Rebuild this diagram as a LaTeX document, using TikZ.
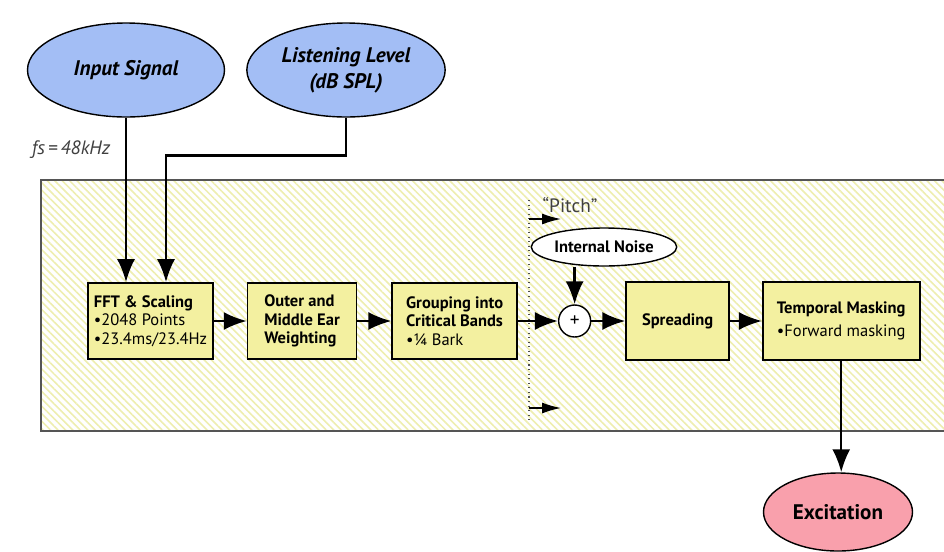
\documentclass[tikz,border=0pt]{standalone}
\usepackage{fontspec}
\setmainfont{PT Sans}
\usetikzlibrary{arrows.meta,positioning,shapes.geometric,patterns.meta}

\definecolor{boxyellow}{RGB}{243,240,160}
\definecolor{hatchyellow}{RGB}{238,238,175}
\definecolor{inblue}{RGB}{163,190,245}
\definecolor{outpink}{RGB}{249,160,172}
\definecolor{framegray}{RGB}{85,85,85}

\begin{document}
\begin{tikzpicture}[
font=\fontsize{9.4}{10.4}\selectfont,
stage/.style={rectangle, draw, line width=0.9pt, fill=boxyellow, align=left, minimum height=1.52cm, inner sep=3pt},
source/.style={ellipse, draw, line width=0.8pt, fill=inblue, minimum width=3.94cm, minimum height=1.88cm, align=center, font=\fontsize{12}{15}\selectfont\bfseries\itshape},
arrow/.style={-{Latex[length=4.6mm,width=3.6mm]}, line width=1.4pt},
thinarrow/.style={-{Latex[length=3.8mm,width=2.2mm]}, line width=0.8pt}
]
\useasboundingbox (0,0) rectangle (18.88,-11.02);

% hatched processing area
\fill[white] (0.82,-3.60) rectangle (18.88,-8.62);
\fill[pattern={Lines[angle=-45,distance=3pt,line width=0.9pt]}, pattern color=hatchyellow] (0.82,-3.60) rectangle (18.88,-8.62);
\draw[framegray, line width=1pt] (18.88,-3.60) -- (0.82,-3.60) -- (0.82,-8.62) -- (18.88,-8.62);

\node[source] (input) at (2.52,-1.40) {Input Signal};
\node[source] (listen) at (6.92,-1.40) {Listening Level\\(dB SPL)};
\node[font=\fontsize{11}{13}\selectfont\itshape, text=black!75] (fs) at (1.42,-3.00) {fs\,=\,48kHz};

\node[stage, minimum width=2.5cm] (fft) at (3.01,-6.42) {\textbf{FFT \& Scaling}\\\textbullet2048 Points\\\textbullet23.4ms/23.4Hz};
\node[stage, minimum width=2.18cm, right=0.66cm of fft] (ear) {\textbf{Outer and}\\\textbf{Middle Ear}\\\textbf{Weighting}};
\node[stage, minimum width=2.5cm, right=0.68cm of ear] (group) {\textbf{Grouping into}\\\textbf{Critical Bands}\\\textbullet\textonequarter{} Bark};
\node[circle, draw, fill=white, line width=0.8pt, minimum size=0.64cm, inner sep=0pt, font=\fontsize{11}{11}\selectfont, right=0.80cm of group] (plus) {+};
\node[stage, minimum width=2.06cm, minimum height=1.56cm, right=0.68cm of plus] (spread) {\textbf{Spreading}};
\node[stage, minimum width=3.14cm, minimum height=1.56cm, right=0.64cm of spread] (temporal) {\textbf{Temporal Masking}\\[3pt]\textbullet Forward masking};
\node[ellipse, draw, line width=0.8pt, fill=white, minimum width=2.34cm, minimum height=0.76cm, inner sep=1pt, font=\fontsize{9.4}{10}\selectfont\bfseries] (noise) at (12.08,-4.94) {Internal Noise};
\node[ellipse, draw, line width=0.8pt, fill=outpink, minimum width=2.98cm, minimum height=1.56cm, font=\fontsize{12}{14}\selectfont\bfseries] (excite) at (16.76,-10.24) {Excitation};

% pitch marker
\draw[dotted, line width=0.6pt, black!70] (10.58,-4.00) -- (10.58,-8.40);
\node[font=\fontsize{11}{13}\selectfont, text=black!75] (pitch) at (11.40,-4.10) {``Pitch''};
\coordinate (pa) at (10.58,-4.38);
\coordinate (pb) at (11.22,-4.38);
\coordinate (pc) at (10.58,-8.16);
\coordinate (pd) at (11.22,-8.16);

\draw[arrow] (input.south) -- (input.south |- fft.north);
\draw[arrow] (listen.south) -- ++(0,-0.76) -| ([xshift=0.31cm]fft.north);
\draw[arrow] (fft) -- (ear);
\draw[arrow] (ear) -- (group);
\draw[arrow] (group) -- (plus);
\draw[arrow] (noise.south -| plus) -- (plus);
\draw[arrow] (plus) -- (spread);
\draw[arrow] (spread) -- (temporal);
\draw[arrow] (temporal.south) -- (temporal.south |- excite.north);
\draw[thinarrow] (pa) -- (pb);
\draw[thinarrow] (pc) -- (pd);

\end{tikzpicture}
\end{document}
